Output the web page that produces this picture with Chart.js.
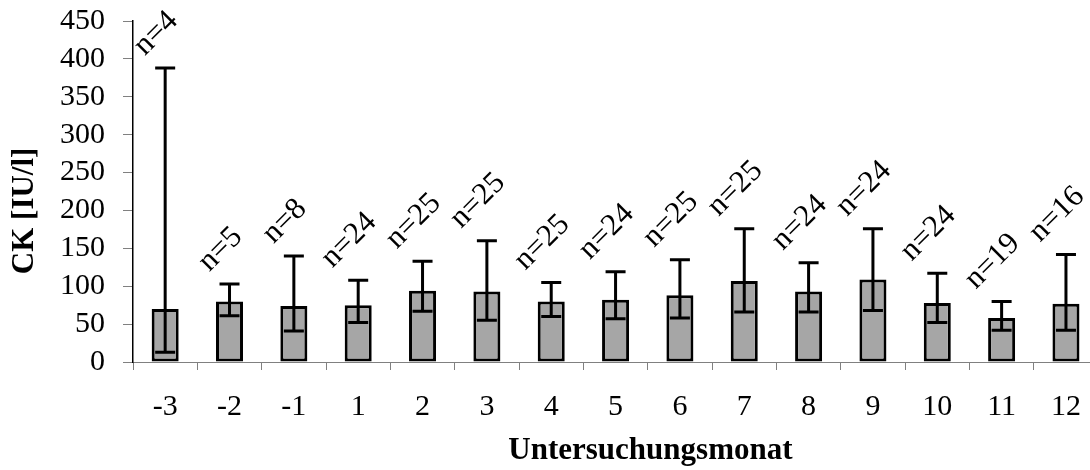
<!DOCTYPE html>
<html>
<head>
<meta charset="utf-8">
<script src="https://cdn.jsdelivr.net/npm/chart.js@4/dist/chart.umd.min.js"></script>
<style>
  html, body { margin: 0; padding: 0; background: #fff; overflow: hidden; }
  #wrap { width: 1090px; height: 470px; overflow: hidden; }
</style>
</head>
<body>
<div id="wrap"><canvas id="chart" width="1100" height="470"></canvas></div>
<script>
const months = ['-3', '-2', '-1', '1', '2', '3', '4', '5', '6', '7', '8', '9', '10', '11', '12'];
const means = [70, 80, 74, 75, 94, 93, 80, 82, 88, 107, 93, 109, 78, 58, 77];
const errLow = [13, 61, 41, 52, 67, 55, 60, 57, 58, 66, 66, 68, 52, 42, 42];
const errHigh = [388, 103, 140, 108, 133, 160, 105, 119, 135, 176, 131, 176, 117, 80, 142];
const nCounts = [4, 5, 8, 24, 25, 25, 25, 24, 25, 25, 24, 24, 24, 19, 16];
const yTicks = [0, 50, 100, 150, 200, 250, 300, 350, 400, 450];

const serif = "'Liberation Serif', 'Times New Roman', serif";

// Fehlerbalken + n-Beschriftung
const errorBars = {
  id: 'errorBars',
  afterDatasetsDraw(chart) {
    const ctx = chart.ctx;
    const x = chart.scales.x;
    const y = chart.scales.y;
    ctx.save();
    ctx.strokeStyle = '#000';
    ctx.lineWidth = 3;
    months.forEach((m, i) => {
      const cx = x.getPixelForValue(i);
      const lo = y.getPixelForValue(errLow[i]);
      const hi = y.getPixelForValue(errHigh[i]);
      ctx.beginPath();
      ctx.moveTo(cx, lo); ctx.lineTo(cx, hi);
      ctx.moveTo(cx - 10, lo); ctx.lineTo(cx + 10, lo);
      ctx.moveTo(cx - 10, hi); ctx.lineTo(cx + 10, hi);
      ctx.stroke();

      // Label, 45° gedreht
      const txt = 'n=' + nCounts[i];
      ctx.font = '31px ' + serif;
      const w = ctx.measureText(txt).width;
      const h = 21;
      const half = (w + h) / (2 * Math.SQRT2);
      ctx.save();
      ctx.translate(cx - 9, hi - 10 - half);
      ctx.rotate(-Math.PI / 4);
      ctx.fillStyle = '#000';
      ctx.textAlign = 'center';
      ctx.textBaseline = 'middle';
      ctx.fillText(txt, 0, 0);
      ctx.restore();
    });
    ctx.restore();
  }
};

new Chart(document.getElementById('chart'), {
  type: 'bar',
  data: {
    labels: months,
    datasets: [{
      data: means,
      backgroundColor: '#a6a6a6',
      borderColor: '#000',
      borderWidth: 3,
      borderSkipped: false,
      barPercentage: 0.42,
      categoryPercentage: 1
    }]
  },
  options: {
    responsive: false,
    animation: false,
    layout: { padding: { top: 21, right: 1, left: 0, bottom: 0 } },
    plugins: { legend: { display: false }, tooltip: { enabled: false } },
    scales: {
      x: {
        afterFit(scale) { scale.height = 108; },
        grid: { drawOnChartArea: false, color: '#808080', tickLength: 8, offset: true },
        border: { color: '#808080', width: 1 },
        ticks: { color: '#000', font: { family: serif, size: 30 }, padding: 19, maxRotation: 0, autoSkip: false },
        title: { display: true, text: '         Untersuchungsmonat', color: '#000', font: { family: serif, size: 31, weight: 'bold' }, padding: { top: 0, bottom: 0 } }
      },
      y: {
        min: 0,
        max: 450,
        afterFit(scale) {
          scale.width = 133;
          scale.paddingTop = 0;
          scale.paddingBottom = 0;
        },
        afterBuildTicks(scale) { scale.ticks = yTicks.map(v => ({ value: v })); },
        grid: { drawOnChartArea: false, color: '#808080', tickLength: 10 },
        border: { color: '#000', width: 1.5 },
        ticks: { color: '#000', font: { family: serif, size: 30 }, padding: 18, autoSkip: false },
        title: { display: true, text: 'CK [IU/l]     ', color: '#000', font: { family: serif, size: 31, weight: 'bold' }, padding: { top: 6, bottom: 0 } }
      }
    }
  },
  plugins: [errorBars]
});
</script>
</body>
</html>
